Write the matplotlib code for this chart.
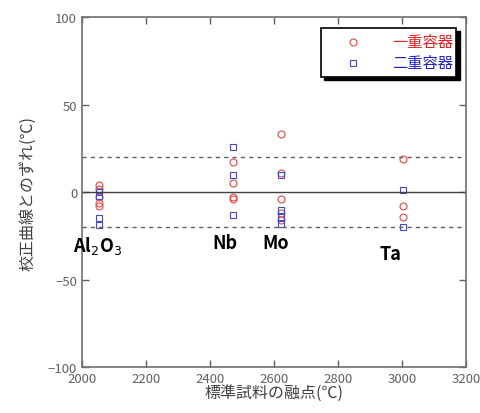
import matplotlib
matplotlib.use("Agg")
import matplotlib.pyplot as plt
from matplotlib.patches import Rectangle

plt.rcParams['font.family'] = ['Liberation Sans Narrow', 'Noto Sans CJK JP', 'DejaVu Sans']

# melting points of the standard samples (deg C)
samples = ["Al$_2$O$_3$", "Nb", "Mo", "Ta"]
melt_pts = [2054, 2470, 2622, 3002]

# deviation from calibration curve, single container (red circles)
single = [
    [4, 2, -3, -6, -8],
    [17, 5, -3, -4],
    [33, 11, -4, -12, -16],
    [19, -8, -14],
]
# double container (blue squares)
double = [
    [0, -2, -15, -19],
    [26, 10, -13],
    [10, -10, -14, -18],
    [1, -20],
]
label_y = [-30, -29, -29, -35]
label_x = [2050, 2445, 2605, 2962]

fig = plt.figure(figsize=(4.81, 4.14), dpi=100)
ax = fig.add_axes([0.1705, 0.1111, 0.799, 0.8454])

red = '#e04848'
blue = '#4848c0'

for i, mp in enumerate(melt_pts):
    ax.plot([mp] * len(single[i]), single[i], 'o', mfc='none', mec=red,
            ms=5, mew=0.8)
    ax.plot([mp] * len(double[i]), double[i], 's', mfc='none', mec=blue,
            ms=5, mew=0.8)
    ax.text(label_x[i], label_y[i], samples[i], fontsize=13, fontweight='bold',
            ha='center', va='center', color='black')

ax.axhline(0, color='#404040', lw=1)
ax.axhline(20, color='#606060', lw=1, ls=(0, (3, 3)))
ax.axhline(-20, color='#606060', lw=1, ls=(0, (3, 3)))

ax.set_xlim(2000, 3200)
ax.set_ylim(-100, 100)
ax.set_xticks(range(2000, 3201, 200))
ax.set_yticks([-100, -50, 0, 50, 100])
ax.tick_params(direction='in', top=True, right=True, length=5,
               labelsize=9.5, colors='#606060', width=1)
for s in ax.spines.values():
    s.set_color('#707070')
    s.set_linewidth(1.2)

ax.set_xlabel('標準試料の融点(℃)', family=['Noto Sans CJK JP'], fontsize=11.5,
              color='#404040', labelpad=-1)
ax.set_ylabel('校正曲線とのずれ(℃)', family=['Noto Sans CJK JP'], fontsize=11.5,
              color='#404040', labelpad=8)

# legend with a hard shadow, as in the original
lx0, ly0, lw, lh = 0.621, 0.829, 0.353, 0.14
ax.add_patch(Rectangle((lx0 + 0.009, ly0 - 0.01), lw, lh, transform=ax.transAxes,
                       facecolor='black', edgecolor='black', zorder=5))
ax.add_patch(Rectangle((lx0, ly0), lw, lh, transform=ax.transAxes,
                       facecolor='white', edgecolor='black', lw=1.2, zorder=6))
ax.plot([lx0 + 0.083], [ly0 + 0.10], 'o', mfc='none', mec=red, ms=5, mew=0.8,
        transform=ax.transAxes, zorder=7, clip_on=False)
ax.plot([lx0 + 0.083], [ly0 + 0.04], 's', mfc='none', mec=blue, ms=5, mew=0.8,
        transform=ax.transAxes, zorder=7, clip_on=False)
ax.text(lx0 + 0.345, ly0 + 0.10, '一重容器', transform=ax.transAxes, ha='right',
        va='center', color='#e02020', fontsize=11, family=['Noto Sans CJK JP'], zorder=7)
ax.text(lx0 + 0.345, ly0 + 0.04, '二重容器', transform=ax.transAxes, ha='right',
        va='center', color='#2020c0', fontsize=11, family=['Noto Sans CJK JP'], zorder=7)

fig.savefig('out.png', dpi=100)
